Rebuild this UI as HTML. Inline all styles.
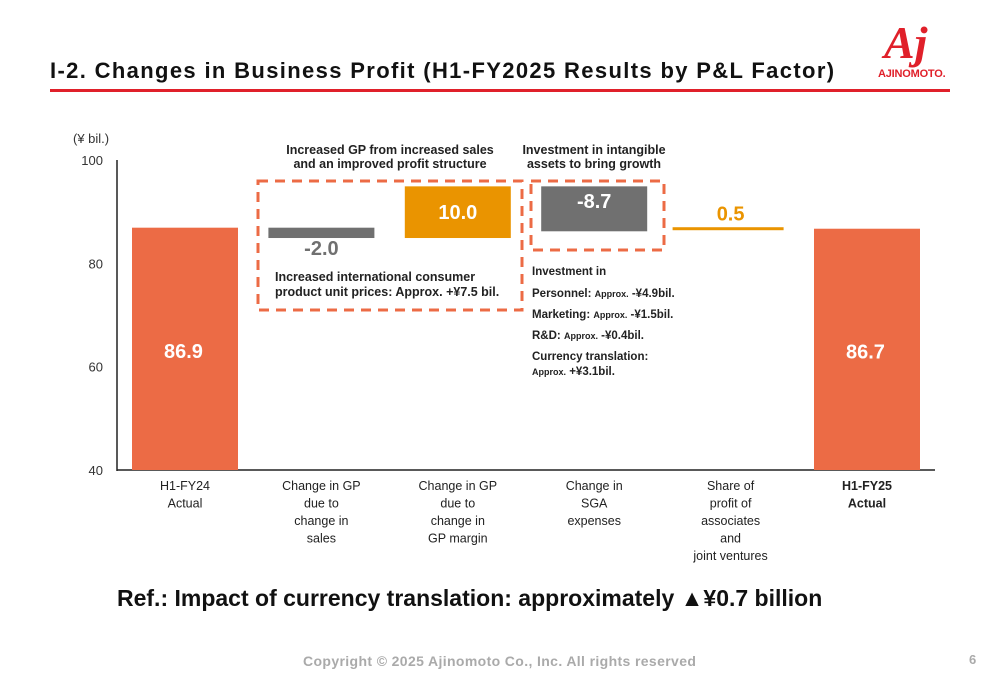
<!DOCTYPE html>
<html><head><meta charset="utf-8"><style>
body{margin:0;width:1000px;height:685px;background:#fff;font-family:"Liberation Sans",sans-serif;overflow:hidden;position:relative}
.t{position:absolute;white-space:nowrap}
</style></head><body>
<div class="t" style="left:50px;top:58px;font-size:22px;font-weight:bold;letter-spacing:1.35px;color:#111">I-2. Changes in Business Profit (H1-FY2025 Results by P&amp;L Factor)</div>
<div style="position:absolute;left:50px;top:89px;width:900px;height:3px;background:#e0202a"></div>
<div style="position:absolute;left:878px;top:24px;width:74px;height:56px">
<div class="t" style="left:6px;top:-8px;font-size:46px;font-style:italic;font-weight:bold;color:#e0202a;font-family:'Liberation Serif',serif">Aj</div>
<div class="t" style="left:0;top:44px;font-size:11px;font-weight:bold;color:#e0202a;letter-spacing:-0.2px">AJINOMOTO.</div></div>
<svg id="c" width="1000" height="685" style="position:absolute;left:0;top:0"></svg>
<div class="t" style="left:117px;top:585px;font-size:23px;font-weight:bold;color:#111">Ref.: Impact of currency translation: approximately ▲¥0.7 billion</div>
<div class="t" style="left:303px;top:653px;font-size:14px;font-weight:bold;letter-spacing:0.37px;color:#aaa">Copyright © 2025 Ajinomoto Co., Inc. All rights reserved</div>
<div class="t" style="left:969px;top:652px;font-size:13px;font-weight:bold;color:#aaa">6</div>
<script>
const categories=[["H1-FY24","Actual"],["Change in GP","due to","change in","sales"],["Change in GP","due to","change in","GP margin"],["Change in","SGA","expenses"],["Share of","profit of","associates","and","joint ventures"],["H1-FY25","Actual"]];
const values=[86.9,-2.0,10.0,-8.7,0.5,86.7];
const labels=["86.9","-2.0","10.0","-8.7","0.5","86.7"];
const yTicks=[40,60,80,100];
const NS="http://www.w3.org/2000/svg",svg=document.getElementById('c');
function y(v){return 470-(v-40)*310/60;}
function x(i){return 132+i*136.4;}
function mk(t,a,txt){const e=document.createElementNS(NS,t);for(const k in a)e.setAttribute(k,a[k]);if(txt!=null)e.textContent=txt;svg.appendChild(e);return e;}
let e;
e=mk('line',{x1:117,y1:160,x2:117,y2:471,stroke:'#222','stroke-width':1.5});

e=mk('line',{x1:117,y1:470,x2:935,y2:470,stroke:'#222','stroke-width':1.5});

e=mk('text',{x:73,y:143,'font-size':13,fill:'#333'},'(¥ bil.)');

yTicks.forEach(t=>{e=mk('text',{x:103,y:y(t)+5,'font-size':13,fill:'#333','text-anchor':'end'},t);
});
let cum=0;const W=106;
values.forEach((v,i)=>{
 const first=i==0,last=i==values.length-1;
 let top,bot,col;
 if(first||last){top=y(v);bot=y(40);col='#ec6b45';cum=v;}
 else{const a=cum,b=cum+v;cum=b;top=y(Math.max(a,b));bot=y(Math.min(a,b));col=v<0?'#707070':'#ea9400';}
 if(i==4){e=mk('rect',{x:x(i)-5,y:y(cum)-1.5,width:W+5,height:3,fill:col});}
 else e=mk('rect',{x:x(i),y:top,width:W,height:Math.max(bot-top,1),fill:col});
 
 let ly,lc='#fff',fs=20;
 if(first||last)ly=y(40)-(y(40)-y(v))*0.5+7+2;
 else if(i==1){ly=bot+17;lc='#707070';}
 else if(i==4){ly=y(cum)-8;lc='#ea9400';}
 else ly=(top+bot)/2+(i==3?-1:7);
 const lx=(first||last)?x(i)+32:x(i)+W/2;
 e=mk('text',{x:lx,y:ly,'font-size':fs,'font-weight':'bold',fill:lc,'text-anchor':(first||last)?'start':'middle'},labels[i]);
 
 categories[i].forEach((s,j)=>{e=mk('text',{x:x(i)+W/2,y:490+j*17.5,'font-size':12.5,fill:'#222','text-anchor':'middle','font-weight':(last?'bold':'normal')},s);
 });
});
const dash={fill:'none',stroke:'#ec6b45','stroke-width':3,'stroke-dasharray':'10,7'};
e=mk('rect',Object.assign({x:258,y:181,width:264,height:129},dash));

e=mk('rect',Object.assign({x:531,y:181,width:133,height:69},dash));

function txt(x0,y0,s,fs,w,anchor,name){e=mk('text',{x:x0,y:y0,'font-size':fs,'font-weight':w||'bold',fill:'#222','text-anchor':anchor||'start'},s);
}
txt(390,154,'Increased GP from increased sales',12.5,'bold','middle','gp-annotation');
txt(390,168,'and an improved profit structure',12.5,'bold','middle','gp-annotation');
txt(594,154,'Investment in intangible',12.5,'bold','middle','sga-annotation');
txt(594,168,'assets to bring growth',12.5,'bold','middle','sga-annotation');
txt(275,281,'Increased international consumer',12.5,'bold','start','unit-price-note');
txt(275,296,'product unit prices: Approx. +¥7.5 bil.',12.5,'bold','start','unit-price-note');
txt(532,275,'Investment in',11.5,'bold','start','investment-note');
e=mk('text',{x:532,y:297,'font-size':11.5,'font-weight':'bold',fill:'#222'});e.innerHTML='Personnel: <tspan font-size="9">Approx.</tspan> -¥4.9bil.';

e=mk('text',{x:532,y:318,'font-size':11.5,'font-weight':'bold',fill:'#222'});e.innerHTML='Marketing: <tspan font-size="9">Approx.</tspan> -¥1.5bil.';

e=mk('text',{x:532,y:339,'font-size':11.5,'font-weight':'bold',fill:'#222'});e.innerHTML='R&amp;D: <tspan font-size="9">Approx.</tspan> -¥0.4bil.';

txt(532,360,'Currency translation:',11.5,'bold','start','currency-note');
e=mk('text',{x:532,y:375,'font-size':11.5,'font-weight':'bold',fill:'#222'});e.innerHTML='<tspan font-size="9">Approx.</tspan> +¥3.1bil.';

</script>
</body></html>
